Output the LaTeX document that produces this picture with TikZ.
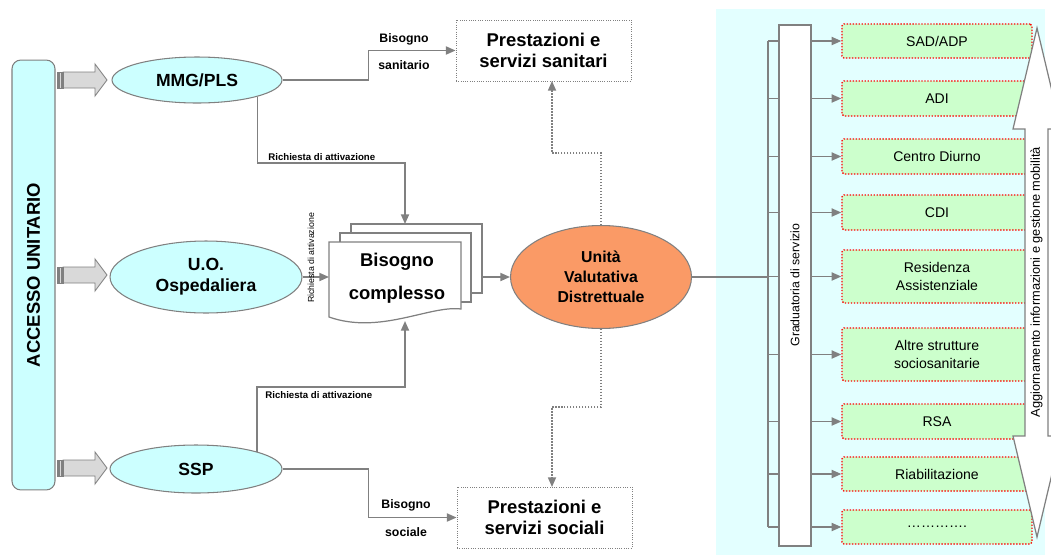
\documentclass[tikz,border=0pt]{standalone}
\usepackage{fontspec}
\setmainfont{Liberation Sans}
\usetikzlibrary{shapes.geometric,arrows.meta,calc}
\definecolor{lg}{HTML}{808080}
\definecolor{ecyan}{HTML}{CCFFFF}
\definecolor{panelc}{HTML}{E3FFFF}
\definecolor{igreen}{HTML}{CCFFCC}
\definecolor{uvdc}{HTML}{FA9A66}
\definecolor{arrg}{HTML}{D9D9D9}
\begin{document}
\begin{tikzpicture}[x=0.02cm,y=-0.02cm,
 ell/.style={ellipse,draw=lg,line width=0.6pt,fill=ecyan,inner sep=0pt,align=center,font=\fontsize{10}{12}\selectfont\bfseries},
 conn/.style={draw=lg,line width=0.9pt,-{Triangle[length=5.5pt,width=4.6pt]}},
 pline/.style={draw=lg,line width=0.9pt},
 dotconn/.style={draw=lg,line width=0.8pt,dash pattern=on 0.8pt off 0.9pt,-{Triangle[length=5.5pt,width=4.6pt]}},
 prest/.style={draw=lg,dash pattern=on 0.5pt off 0.8pt,line width=0.5pt,minimum width=3.5cm,minimum height=1.22cm,align=center,font=\fontsize{10.5}{12}\selectfont\bfseries},
 itembox/.style={draw=red,dash pattern=on 0.8pt off 0.9pt,line width=0.8pt,fill=igreen,minimum width=3.8cm,rounded corners=1pt,align=center,font=\fontsize{8}{10}\selectfont,inner sep=0pt},
 lbl/.style={font=\fontsize{7}{8}\selectfont\bfseries,inner sep=0pt},
 smalllbl/.style={font=\fontsize{5.5}{6.5}\selectfont\bfseries,inner sep=0pt},
 blockarr/.style={draw=lg,fill=arrg,line width=0.5pt},
 docst/.style={draw=lg,fill=white,line width=0.7pt},
]
\useasboundingbox (0,0) rectangle (1051,555);
% right panel background
\fill[panelc] (716,9) rectangle (1045,555);

% accesso unitario
\node[draw=lg,fill=ecyan,rounded corners=5pt,minimum width=0.86cm,minimum height=8.6cm,line width=0.6pt,inner sep=0pt] (acc) at (33.5,275) {};
\node[rotate=90,font=\fontsize{10.5}{12}\selectfont\bfseries] (acct) at (acc.center) {ACCESSO UNITARIO};

% block arrows
\foreach \yy in {80,275,468} {
  \draw[blockarr] (63,\yy-8) -- (95,\yy-8) -- (95,\yy-16) -- (107,\yy) -- (95,\yy+16) -- (95,\yy+8) -- (63,\yy+8) -- cycle;
  \foreach \xx in {57,59.6,62} \draw[blockarr] (\xx,\yy-8) rectangle ++(1.6,16);
}

% ellipses
\node[ell,minimum width=3.4cm,minimum height=0.92cm] (mmg) at (197,80) {MMG/PLS};
\node[ell,minimum width=3.84cm,minimum height=1.44cm] (uo) at (206,277) {U.O.\\Ospedaliera};
\node[ell,minimum width=3.44cm,minimum height=0.96cm] (ssp) at (196,469) {SSP};
\node[ell,fill=uvdc,minimum width=3.62cm,minimum height=2.06cm,font=\fontsize{9}{11.3}\selectfont\bfseries] (uvd) at (601,277) {Unità\\Valutativa\\Distrettuale};

% prestazioni boxes
\node[prest] (san) at (543.5,50.5) {Prestazioni e\\servizi sanitari};
\node[prest] (soc) at (544.5,517.5) {Prestazioni e\\servizi sociali};
\coordinate (sanin) at (552,81);
\coordinate (socin) at (552,487);

% multi-document
\draw[docst] (351,224) rectangle (482,293);
\draw[docst] (340,233) rectangle (471,302);
\draw[docst] (329,242) -- (461,242) -- (461,309) .. controls (430,305) and (380,335) .. (329,317) -- cycle;
\node[font=\fontsize{10.5}{18.7}\selectfont\bfseries,align=center] (doc) at (397,278) {Bisogno\\complesso};
\coordinate (doctop) at (405,224);
\coordinate (docbot) at (405,321);
\coordinate (docwest) at (329,277);
\coordinate (doceast) at (482,277);

% connectors left part
\draw[conn] (mmg.east) -- ++(86,0) |- (san.west);
\node[lbl] (lb1) at (404,39) {Bisogno};
\node[lbl] (lb2) at (404,65) {sanitario};

\draw[conn] (mmg.south east) |- ($(doctop)+(0,-61)$) -- (doctop);
\node[smalllbl,anchor=west] (lr1) at (268,157) {Richiesta di attivazione};

\draw[conn] (uo.east) -- (docwest);
\node[font=\fontsize{5}{6}\selectfont,rotate=90,inner sep=0pt] (lr3) at (311,258) {Richiesta di attivazione};

\draw[conn] (ssp.north east) |- ($(docbot)+(0,66)$) -- (docbot);
\node[smalllbl,anchor=west] (lr2) at (265,395) {Richiesta di attivazione};

\draw[conn] (ssp.east) -- ++(86,0) |- (soc.west);
\node[lbl] (lb3) at (406,505) {Bisogno};
\node[lbl] (lb4) at (406,532) {sociale};

\draw[conn] (doceast) -- (uvd.west);

\draw[dotconn] (uvd.north) |- ($(sanin)+(0,72)$) -- (sanin);
\draw[dotconn] (uvd.south) |- ($(socin)+(0,-80)$) -- (socin);

% right part
\node[draw=lg,fill=white,line width=0.8pt,minimum width=0.64cm,minimum height=10.42cm,inner sep=0pt] (grad) at (795,285.5) {};
\node[rotate=90,font=\fontsize{7}{8}\selectfont] (gradt) at (795,285) {Graduatoria di servizio};

\node[itembox,minimum height=0.68cm] (i1) at (937,41) {SAD/ADP};
\node[itembox,minimum height=0.7cm] (i2) at (937,98.5) {ADI};
\node[itembox,minimum height=0.7cm] (i3) at (937,156.5) {Centro Diurno};
\node[itembox,minimum height=0.7cm] (i4) at (937,212.5) {CDI};
\node[itembox,minimum height=1.06cm] (i5) at (937,276.5) {Residenza\\Assistenziale};
\node[itembox,minimum height=1.06cm] (i6) at (937,354.5) {Altre strutture\\sociosanitarie};
\node[itembox,minimum height=0.7cm] (i7) at (937,421.5) {RSA};
\node[itembox,minimum height=0.68cm] (i8) at (937,474) {Riabilitazione};
\node[itembox,minimum height=0.68cm] (i9) at (937,527) {………….};

\coordinate (brk) at (768,277);
\draw[pline] (uvd.east) -- (brk);
\draw[pline] (brk |- i1) -- (brk |- i9);
\foreach \n in {i1,i2,i3,i4,i5,i6,i7,i8,i9} {
  \draw[pline] (brk |- \n) -- (grad.west |- \n);
  \draw[conn] (grad.east |- \n) -- (\n.west);
}

% double arrow
\draw[draw=lg,fill=white,line width=0.7pt] (1037,28) -- (1061,129) -- (1048,129) -- (1048,436) -- (1061,436) -- (1037,537) -- (1013,436) -- (1025,436) -- (1025,129) -- (1013,129) -- cycle;
\node[rotate=90,font=\fontsize{7.3}{8}\selectfont] (agg) at (1036.5,282) {Aggiornamento informazioni e gestione mobilità};
\end{tikzpicture}
\end{document}
